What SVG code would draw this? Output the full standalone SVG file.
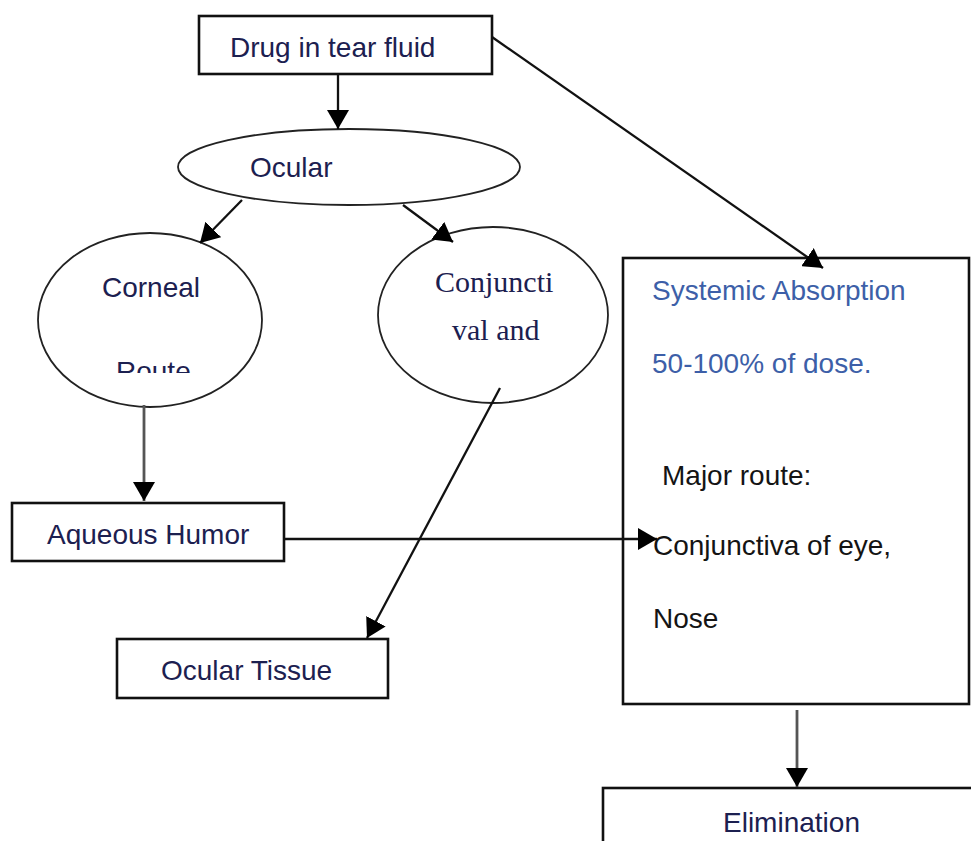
<svg xmlns="http://www.w3.org/2000/svg" width="971" height="841" viewBox="0 0 971 841">
<style>
.box{fill:#fff;stroke:#111;stroke-width:2.6}
.ell{fill:#fff;stroke:#222;stroke-width:1.8}
.lbl{font-family:"Liberation Sans",Arial,sans-serif;font-size:28px;fill:#1c2050}
.ser{font-family:"Liberation Serif","Times New Roman",serif;font-size:30px;fill:#1c2050}
.blue{fill:#3d5fa8}
.blk{fill:#141414}
.con{stroke:#111;stroke-width:2.3;fill:none}
.gray{stroke:#555;stroke-width:2.8}
</style>
<defs>
<marker id="ah" markerUnits="userSpaceOnUse" markerWidth="19" markerHeight="22" refX="19" refY="11" orient="auto">
<path d="M0,0 L19,11 L0,22 z" fill="#000"/>
</marker>
<clipPath id="routeClip"><rect x="0" y="0" width="971" height="373"/></clipPath>
</defs>
<rect width="971" height="841" fill="#fff"/>
<g id="n-drug">
<rect class="box" x="199" y="16" width="293" height="58"/>
<text class="lbl" x="230" y="57">Drug in tear fluid</text>
</g>
<g id="n-ocular">
<ellipse class="ell" cx="349" cy="167" rx="171" ry="38"/>
<text class="lbl" x="250" y="177">Ocular</text>
</g>
<g id="n-corneal">
<ellipse class="ell" cx="150" cy="320" rx="112" ry="87"/>
<text class="lbl" x="102" y="297">Corneal</text>
<text class="lbl" x="116" y="381" clip-path="url(#routeClip)">Route</text>
</g>
<g id="n-conj">
<ellipse class="ell" cx="493" cy="315" rx="115" ry="88"/>
<text class="ser" x="435" y="292">Conjuncti</text>
<text class="ser" x="452" y="340">val and</text>
</g>
<g id="n-systemic">
<rect class="box" x="623" y="258" width="346" height="446"/>
<text class="lbl blue" x="652" y="300">Systemic Absorption</text>
<text class="lbl blue" x="652" y="373">50-100% of dose.</text>
<text class="lbl blk" x="662" y="485">Major route:</text>
<text class="lbl blk" x="653" y="555">Conjunctiva of eye,</text>
<text class="lbl blk" x="653" y="628">Nose</text>
</g>
<g id="n-aqueous">
<rect class="box" x="12" y="503" width="272" height="58"/>
<text class="lbl" x="47" y="544">Aqueous Humor</text>
</g>
<g id="n-tissue">
<rect class="box" x="117" y="639" width="271" height="59"/>
<text class="lbl" x="161" y="680">Ocular Tissue</text>
</g>
<g id="n-elim">
<rect class="box" x="603" y="788" width="380" height="70"/>
<text class="lbl" x="723" y="832">Elimination</text>
</g>
<g id="connectors">
<line class="con" x1="338" y1="74" x2="338" y2="129" marker-end="url(#ah)"/>
<line class="con" x1="492" y1="37" x2="823" y2="268" marker-end="url(#ah)"/>
<line class="con" x1="242" y1="200" x2="200" y2="243" marker-end="url(#ah)"/>
<line class="con" x1="403" y1="205" x2="453" y2="242" marker-end="url(#ah)"/>
<line class="con gray" x1="144" y1="405" x2="144" y2="501" marker-end="url(#ah)"/>
<line class="con" x1="284" y1="539" x2="657" y2="539" marker-end="url(#ah)"/>
<line class="con" x1="500" y1="388" x2="367" y2="638" marker-end="url(#ah)"/>
<line class="con gray" x1="797" y1="710" x2="797" y2="787" marker-end="url(#ah)"/>
</g>
</svg>
